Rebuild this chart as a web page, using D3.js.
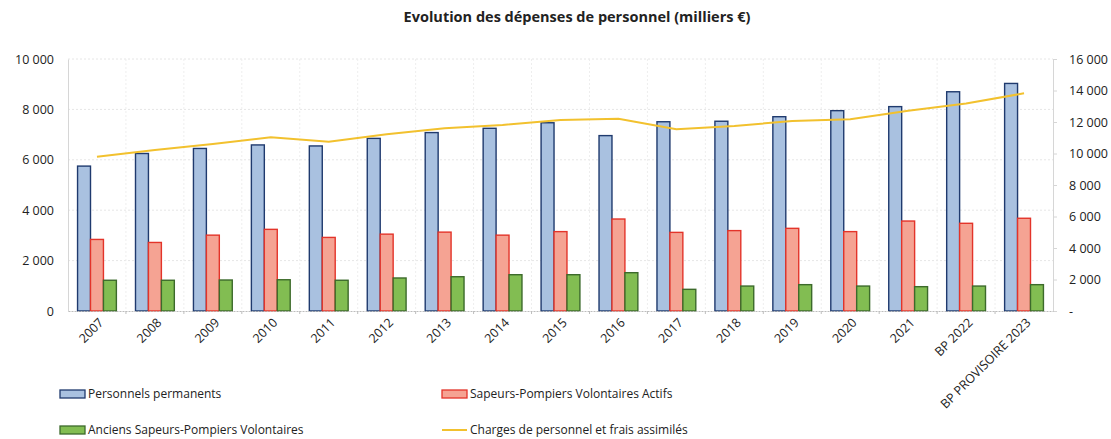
<!DOCTYPE html>
<html>
<head>
<meta charset="utf-8">
<script src="https://cdn.jsdelivr.net/npm/d3@7"></script>
<style>
  body { margin: 0; background: #fff; }
  text { font-family: "Open Sans", sans-serif; fill: #222; }
</style>
</head>
<body>
<div id="chart"></div>
<script>
// categories and series (milliers €)
var years = ["2007","2008","2009","2010","2011","2012","2013","2014","2015","2016",
             "2017","2018","2019","2020","2021","BP 2022","BP PROVISOIRE 2023"];
var permanents = [5750,6250,6450,6590,6550,6850,7080,7250,7470,6960,7510,7530,7710,7950,8110,8700,9030];
var spvActifs  = [2840,2720,3010,3240,2920,3050,3130,3010,3150,3650,3120,3190,3280,3150,3570,3480,3680];
var anciensSpv = [1220,1220,1230,1240,1220,1310,1360,1440,1440,1520,860,990,1045,990,965,990,1045];
var charges    = [9800,10220,10600,11030,10750,11220,11600,11810,12130,12210,11540,11750,12060,12170,12720,13180,13820];
var leftTicks  = [0,2000,4000,6000,8000,10000];
var rightTicks = [0,2000,4000,6000,8000,10000,12000,14000,16000];

var seriesNames = ["Personnels permanents","Sapeurs-Pompiers Volontaires Actifs",
                   "Anciens Sapeurs-Pompiers Volontaires","Charges de personnel et frais assimilés"];

var W = 1111, H = 439;
var margin = {top: 59, right: 58, bottom: 128, left: 68},
    width = W - margin.left - margin.right,
    height = H - margin.top - margin.bottom;

var svg = d3.select('#chart').append('svg')
    .attr('width', W).attr('height', H);

svg.append('text')
   .attr('x', 577).attr('y', 22)
   .attr('text-anchor','middle')
   .style('font-size','14.5px').style('font-weight','bold')
   .text('Evolution des dépenses de personnel (milliers €)');

var g = svg.append('g').attr('transform','translate(' + margin.left + ',' + margin.top + ')');

var x = d3.scaleBand().domain(years).range([0, width]).paddingInner(0.33).paddingOuter(0.165);
var x0 = d3.scaleBand().domain(years).range([0, width]);
var xs = d3.scaleBand().domain([0,1,2]).range([0, x.bandwidth()]);
var yL = d3.scaleLinear().domain([0,10000]).range([height,0]);
var yR = d3.scaleLinear().domain([0,16000]).range([height,0]);

var fmt = function(d){ return d3.format(',')(d).replace(/,/g,' '); };

// gridlines
g.selectAll('.hgrid').data(leftTicks.slice(1)).enter().append('line')
  .attr('x1',0).attr('x2',width)
  .attr('y1',function(d){return yL(d);}).attr('y2',function(d){return yL(d);})
  .attr('stroke','#e6e6e6').attr('stroke-dasharray','2,2');
g.selectAll('.vgrid').data(years.slice(1)).enter().append('line')
  .attr('x1',function(d){return x0(d);}).attr('x2',function(d){return x0(d);})
  .attr('y1',0).attr('y2',height)
  .attr('stroke','#eeeeee').attr('stroke-dasharray','2,2');

// left axis
var axL = g.append('g').call(d3.axisLeft(yL).tickValues(leftTicks).tickFormat(fmt).tickSize(0).tickPadding(14));
axL.select('.domain').attr('stroke','#d6d6d6');
axL.selectAll('text').style('font-size','12.5px').style('font-family','"Open Sans", sans-serif').attr('fill','#222');

// right axis
var axR = g.append('g').attr('transform','translate(' + width + ',0)')
  .call(d3.axisRight(yR).tickValues(rightTicks).tickFormat(function(d){return d===0 ? '-' : fmt(d);}).tickSize(4).tickPadding(12));
axR.select('.domain').attr('stroke','#d6d6d6');
axR.selectAll('line').attr('stroke','#d6d6d6');
axR.selectAll('text').style('font-size','12.5px').style('font-family','"Open Sans", sans-serif').attr('fill','#222');

// bars
var series = [
  {vals: permanents, fill:'#a9c1e0', stroke:'#1f3a6e'},
  {vals: spvActifs,  fill:'#f5a393', stroke:'#e3342a'},
  {vals: anciensSpv, fill:'#82bd52', stroke:'#3c6a2b'}
];
series.forEach(function(s, i){
  g.selectAll('.bar' + i).data(s.vals).enter().append('rect')
    .attr('x', function(d, j){ return x(years[j]) + xs(i); })
    .attr('y', function(d){ return yL(d); })
    .attr('width', xs.bandwidth())
    .attr('height', function(d){ return height - yL(d); })
    .attr('fill', s.fill).attr('stroke', s.stroke).attr('stroke-width', 1.4);
});

// x axis
var axB = g.append('g').attr('transform','translate(0,' + height + ')')
  .call(d3.axisBottom(x0).tickSize(0).tickPadding(6));
axB.select('.domain').attr('stroke','#bdbdbd').attr('stroke-dasharray','2,1');
axB.selectAll('text')
  .style('font-size','12.5px').style('font-family','"Open Sans", sans-serif').attr('fill','#222')
  .attr('text-anchor','end')
  .attr('transform','translate(-3,2) rotate(-45)')
  .attr('dy','0.7em').attr('dx','0');
g.selectAll('.xtick').data(years.slice(1)).enter().append('line')
  .attr('x1',function(d){return x0(d);}).attr('x2',function(d){return x0(d);})
  .attr('y1',height).attr('y2',height+3).attr('stroke','#bdbdbd');

// line
g.append('path').datum(charges)
  .attr('fill','none').attr('stroke','#f2c12e').attr('stroke-width',2)
  .attr('d', d3.line()
    .x(function(d, j){ return x0(years[j]) + x0.bandwidth()/2; })
    .y(function(d){ return yR(d); }));

// legend
var leg = [
  {x:60,  y:394, type:'rect', fill:'#a9c1e0', stroke:'#1f3a6e', name: seriesNames[0]},
  {x:442, y:394, type:'rect', fill:'#f5a393', stroke:'#e3342a', name: seriesNames[1]},
  {x:60,  y:430, type:'rect', fill:'#82bd52', stroke:'#3c6a2b', name: seriesNames[2]},
  {x:442, y:430, type:'line', stroke:'#f2c12e', name: seriesNames[3]}
];
leg.forEach(function(l){
  if (l.type === 'rect') {
    svg.append('rect').attr('x', l.x).attr('y', l.y - 4).attr('width', 25).attr('height', 8)
      .attr('fill', l.fill).attr('stroke', l.stroke).attr('stroke-width', 1.3);
  } else {
    svg.append('line').attr('x1', l.x).attr('x2', l.x + 25).attr('y1', l.y).attr('y2', l.y)
      .attr('stroke', l.stroke).attr('stroke-width', 2);
  }
  svg.append('text').attr('x', l.x + 28).attr('y', l.y).attr('dy','0.35em')
    .style('font-size','12px').text(l.name);
});
</script>
</body>
</html>
